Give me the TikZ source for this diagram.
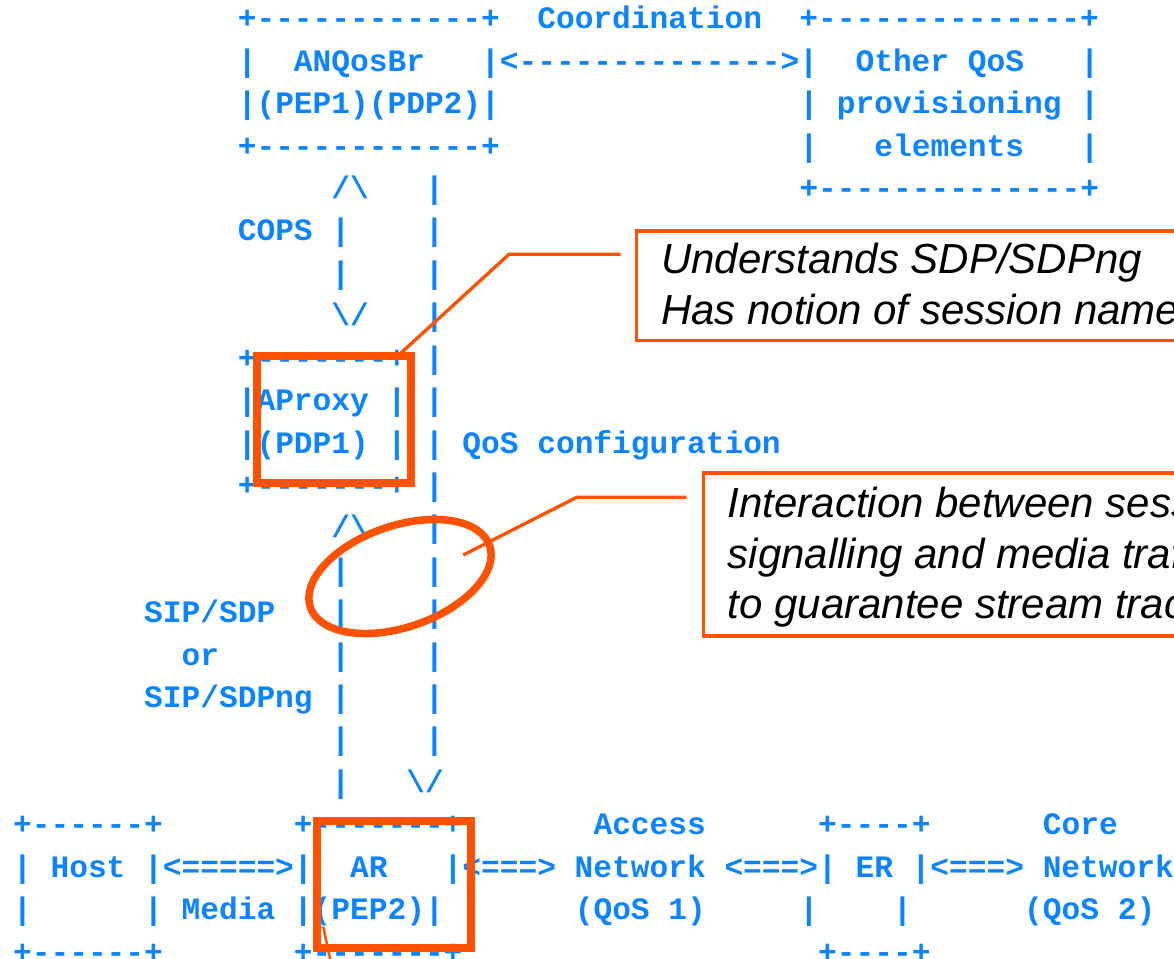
\documentclass[tikz,border=0pt]{standalone}
\usepackage{fontspec}
\setmonofont{Liberation Mono}
\setsansfont{Liberation Sans}
\usetikzlibrary{shapes.geometric}
\definecolor{asciiblue}{RGB}{12,132,255}
\definecolor{markorange}{RGB}{255,82,0}

% one line of the character drawing, placed on text row #2
\newcommand\asciirow[3]{\node[asciiline] (#1) at (13.14,{28.8+42.42*#2}) {#3};}
\newcommand\bs{\textbackslash}

\begin{document}
\begin{tikzpicture}[x=1pt,y=-1pt,
  asciiline/.style={anchor=base west, inner sep=0pt, outer sep=0pt, text=asciiblue,
    font=\ttfamily\bfseries\fontsize{31.2}{42}\selectfont},
  hilite/.style={draw=markorange, line width=8pt, inner sep=0pt, outer sep=0pt},
  lead/.style={draw=markorange, line width=3.3pt},
  notebox/.style={draw=markorange, line width=3.3pt, inner sep=0pt, outer sep=0pt,
    anchor=north west, minimum width=700pt},
  notetext/.style={anchor=base west, inner sep=0pt, outer sep=0pt, text=black,
    font=\sffamily\itshape\fontsize{42}{50}\selectfont}
]
\useasboundingbox (0,0) rectangle (1174,958);
\clip (0,0) rectangle (1174,958);

% ---- character drawing ----
\asciirow{r0}{0}{~~~~~~~~~~~~+------------+~~Coordination~~+--------------+}
\asciirow{r1}{1}{~~~~~~~~~~~~|~~ANQosBr~~~|<-------------->|~~Other QoS~~~|}
\asciirow{r2}{2}{~~~~~~~~~~~~|(PEP1)(PDP2)|~~~~~~~~~~~~~~~~|~provisioning~|}
\asciirow{r3}{3}{~~~~~~~~~~~~+------------+~~~~~~~~~~~~~~~~|~~~elements~~~|}
\asciirow{r4}{4}{~~~~~~~~~~~~~~~~~/\bs~~~|~~~~~~~~~~~~~~~~~~~+--------------+}
\asciirow{r5}{5}{~~~~~~~~~~~~COPS~|~~~~|}
\asciirow{r6}{6}{~~~~~~~~~~~~~~~~~|~~~~|}
\asciirow{r7}{7}{~~~~~~~~~~~~~~~~~\bs/~~~|}
\asciirow{r8}{8}{~~~~~~~~~~~~+-------+~|}
\asciirow{r9}{9}{~~~~~~~~~~~~|AProxy~|~|}
\asciirow{r10}{10}{~~~~~~~~~~~~|(PDP1)~|~|~QoS configuration}
\asciirow{r11}{11}{~~~~~~~~~~~~+-------+~|}
\asciirow{r12}{12}{~~~~~~~~~~~~~~~~~/\bs~~~|}
\asciirow{r13}{13}{~~~~~~~~~~~~~~~~~|~~~~|}
\asciirow{r14}{14}{~~~~~~~SIP/SDP~~~|~~~~|}
\asciirow{r15}{15}{~~~~~~~~~or~~~~~~|~~~~|}
\asciirow{r16}{16}{~~~~~~~SIP/SDPng~|~~~~|}
\asciirow{r17}{17}{~~~~~~~~~~~~~~~~~|~~~~|}
\asciirow{r18}{18}{~~~~~~~~~~~~~~~~~|~~~\bs/}
\asciirow{r19}{19}{+------+~~~~~~~+-------+~~~~~~~Access~~~~~~+----+~~~~~~Core}
\asciirow{r20}{20}{|~Host~|<=====>|~~AR~~~|<===>~Network~<===>|~ER~|<===>~Network}
\asciirow{r21}{21}{|~~~~~~|~Media~|(PEP2)|~~~~~~~(QoS 1)~~~~~|~~~~|~~~~~~(QoS 2)}
\asciirow{r22}{22}{+------+~~~~~~~+-------+~~~~~~~~~~~~~~~~~~~+----+}

% ---- highlights ----
\node[hilite, minimum width=154.4pt, minimum height=127pt] (proxyhl) at (333.8,419.2) {};
\node[hilite, minimum width=154.1pt, minimum height=127.5pt] (arhl) at (393.75,884.55) {};
\node[hilite, ellipse, line width=7.5pt, minimum width=189.6pt, minimum height=101.4pt,
  rotate=19] (ring) at (400,576.5) {};

% ---- notes ----
\node[notebox, minimum height=109.5pt] (note1) at (636.7,231) {};
\node[notetext] (note1a) at (661,273) {Understands SDP/SDPng};
\node[notetext] (note1b) at (661,324) {Has notion of session names};

\node[notebox, minimum height=163pt] (note2) at (703.3,473) {};
\node[notetext] (note2a) at (727.7,517) {Interaction between session};
\node[notetext] (note2b) at (727.7,568) {signalling and media traffic};
\node[notetext] (note2c) at (727.7,618) {to guarantee stream tracking};

% ---- leader lines ----
\coordinate (lead1bend) at (509,254.3);
\coordinate (lead1end) at (620.7,254.3);
\draw[lead] ([xshift=-13pt]proxyhl.north east) -- (lead1bend) -- (lead1end);

\coordinate (lead2start) at (463.3,555);
\coordinate (lead2bend) at (576.7,497.3);
\coordinate (lead2end) at (686.7,497.3);
\draw[lead] (lead2start) -- (lead2bend) -- (lead2end);

\coordinate (tailstart) at (323.3,926.7);
\coordinate (tailend) at (334.5,980);
\draw[markorange, line width=2.5pt] (tailstart) -- (tailend);
\end{tikzpicture}
\end{document}
